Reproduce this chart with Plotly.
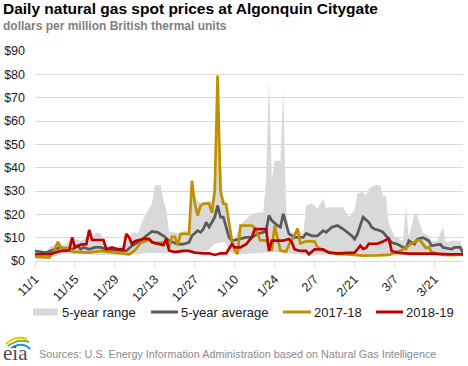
import plotly.graph_objects as go

# ---------------- data ----------------
# x = days since Nov 1 (0 = 11/1, 150 = 3/31)
tick_days = [0, 14, 28, 42, 56, 70, 84, 98, 112, 126, 140]
tick_labels = ["11/1", "11/15", "11/29", "12/13", "12/27", "1/10", "1/24", "2/7", "2/21", "3/7", "3/21"]

range_hi_days = [0, 4, 5, 7, 8, 10, 12, 13, 16, 18, 20, 21, 23, 24, 26, 28, 32, 34, 35, 36, 38, 39, 41, 42, 44,
                 45, 46, 47, 49, 51, 52, 54, 55, 56, 58, 59, 61, 62, 63, 64, 65, 66, 67, 68, 69, 70, 72, 76, 79,
                 80, 81, 82, 83, 84, 86, 87, 88, 89, 91, 92, 94, 95, 97, 99, 101, 102, 103, 108, 110, 112, 113,
                 115, 116, 117, 119, 121, 122, 123, 124, 126, 129, 130, 131, 133, 134, 136, 138, 139, 141, 143,
                 144, 146, 149, 150]
range_hi = [5, 3.8, 5.8, 7.2, 8.7, 6.5, 8.7, 10, 8.7, 10, 9.4, 12, 12, 8.7, 5.8, 5.8, 7.2, 12.3, 12.3, 11.6, 18, 20,
            24.6, 32.5, 32.5, 26, 21.7, 12.3, 12.3, 11.6, 13, 13, 35, 27.5, 24.6, 25, 25.5, 26, 38, 79.7, 42, 27.5,
            25, 17.3, 9.5, 9.4, 15.5, 20.2, 21, 21, 35, 78, 35, 43, 43, 73.7, 23, 12.3, 12.3, 14, 11.6, 23.8, 24.6,
            22.4, 26.7, 22.4, 23, 23, 18.8, 21.6, 29, 29.6, 28, 31, 32.5, 32.5, 28, 28, 16, 10.5, 8.7, 23.8, 10,
            20.2, 19.5, 12, 10.8, 8.7, 8.7, 14.5, 8, 8.7, 8.7, 5]

range_lo_days = [0, 5, 7, 10, 13, 20, 28, 33, 36, 40, 46, 50, 55, 60, 62, 63, 66, 67, 68, 70, 71, 75, 80, 83, 86,
                 88, 90, 95, 100, 105, 110, 115, 120, 125, 130, 135, 140, 145, 150]
range_lo = [1.5, 1.3, 2, 3, 3, 2.8, 2.5, 2.5, 3, 3.5, 3.2, 3.5, 4, 4.2, 6, 7.5, 8, 7.5, 4, 2.8, 2.7, 3, 3.5, 3.8,
            3.8, 3.5, 3, 2.8, 2.6, 2.6, 2.5, 2.1, 2.2, 2.3, 2.5, 2.3, 2.2, 2.1, 2.3]

avg_days = [0, 4, 6, 9, 11, 13, 15, 16, 17, 19, 21, 23, 25, 29, 32, 34, 37, 39, 41, 43, 45, 47, 50, 52, 54, 55, 57,
            58, 59, 60, 61, 62, 63, 64, 65, 66, 67, 68, 69, 72, 74, 76, 78, 80, 81, 82, 83, 85, 86, 87, 88, 89, 91,
            94, 95, 97, 99, 101, 102, 104, 106, 108, 111, 112, 113, 115, 117, 118, 119, 121, 122, 124, 125, 127,
            129, 130, 131, 133, 134, 136, 138, 139, 142, 143, 146, 147, 149, 150]
avg_vals = [4.3, 3.6, 4.6, 5.8, 5, 5, 6.5, 5, 5.8, 5, 5.8, 5.8, 5, 4.6, 4.3, 6.5, 8.7, 10.8, 12.7, 12.3, 10.8, 8.7,
            7.2, 7.2, 8, 10.8, 13, 12.3, 13.7, 16.6, 14.5, 16.6, 18.8, 23.8, 18.8, 18.8, 14.5, 10.1, 8.7, 9.4, 10.1,
            10.1, 11.6, 12.3, 13, 19.5, 17.3, 15.2, 14.5, 20.2, 16, 11.6, 10.1, 10.1, 11.8, 10.8, 10.8, 13, 12.3,
            14.5, 15.2, 13.7, 10.8, 9.4, 11.6, 18.8, 16.6, 14.5, 13.7, 13, 12.3, 9.4, 7.9, 7.2, 5.8, 5.3, 8.7, 7.2,
            9.4, 10, 8.7, 6.5, 7.2, 5.8, 5.1, 5.8, 5.8, 3.6]

y1718_days = [0, 5, 7, 8, 9, 12, 13, 19, 23, 33, 35, 37, 40, 42, 46, 47, 48, 49, 50, 51, 54, 55, 56, 57, 58, 59, 61,
              62, 63, 64, 65, 66, 67, 68, 69, 70, 71, 72, 76, 77, 78, 79, 81, 83, 84, 85, 86, 88, 89, 91, 92, 93,
              95, 98, 99, 101, 103, 106, 110, 115, 120, 124, 126, 128, 130, 132, 134, 135, 137, 138, 139, 141, 143,
              146, 150]
y1718_vals = [1.8, 1.5, 5, 8.2, 5.5, 5.5, 4, 3.6, 4.3, 2.9, 4.6, 7.7, 9.1, 7.7, 8, 5.8, 10.4, 10.4, 6.9, 11.6, 11.6,
              34.4, 24.6, 19.5, 23.6, 24.6, 24.6, 20.7, 30, 79.5, 30, 24.6, 24.3, 17.3, 8.7, 4.6, 3, 15.2, 15.2,
              14.2, 11.8, 8.8, 8.8, 4.5, 15.2, 10.2, 4.5, 4, 7, 11, 13.9, 7.5, 8.5, 8.3, 5.9, 4.5, 3.8, 3, 2.8, 2.3,
              2.4, 2.6, 3.5, 4.5, 5.5, 7.5, 8.8, 8.8, 5.5, 6, 3.8, 3, 2.6, 2.5, 2.7]

y1819_days = [0, 5, 7, 9, 12, 13, 14, 16, 18, 19, 20, 24, 25, 27, 29, 31, 32, 33, 34, 35, 38, 40, 41, 45, 46, 47, 49,
              52, 54, 56, 59, 61, 63, 65, 67, 69, 70, 72, 74, 76, 77, 81, 82, 83, 87, 89, 90, 91, 93, 95, 96, 98,
              101, 103, 106, 110, 112, 113, 114, 115, 116, 117, 120, 122, 124, 125, 127, 131, 136, 140, 145, 150]
y1819_vals = [2.9, 2.9, 3.6, 4.3, 4.5, 10.1, 5.8, 7, 7.2, 13.3, 9, 9, 5, 5.8, 5, 5, 11.6, 10.1, 7.2, 8.5, 9.5, 9.5,
              8, 6.8, 9.5, 4.5, 3.8, 4.3, 4.3, 3.6, 3.3, 3.3, 2.6, 3.3, 3.3, 7.2, 5.8, 5.8, 7.2, 10.1, 13.7, 13.7,
              4.3, 8.7, 8.7, 9.4, 8, 5, 4.3, 4.3, 2.9, 5, 5, 3.6, 3.3, 3.6, 3.6, 5, 6.6, 5.2, 5.6, 7.4, 7.4, 8.4,
              9.6, 4.3, 3.6, 3.2, 3.3, 3.2, 2.9, 2.9]

# ---------------- layout geometry ----------------
W, H = 468, 366
L, R, T, B = 35, 5, 51, 105
PW, PH = W - L - R, H - T - B


def px(x):
    return (x - L) / PW


def py(y):
    return (H - B - y) / PH


FONT = "Liberation Sans, Arial, sans-serif"
TXT = "#1a1a1a"
C_RANGE, C_AVG, C_1718, C_1819 = "#d9d9d9", "#595959", "#bf9000", "#c00000"

fig = go.Figure()
fig.add_trace(go.Scatter(
    x=range_hi_days + range_lo_days[::-1], y=range_hi + range_lo[::-1],
    fill="toself", fillcolor=C_RANGE, mode="lines", line=dict(width=0, color=C_RANGE),
    name="5-year range", hoverinfo="skip"))
fig.add_trace(go.Scatter(x=avg_days, y=avg_vals, mode="lines", name="5-year average",
                         line=dict(color=C_AVG, width=2.7)))
fig.add_trace(go.Scatter(x=y1718_days, y=y1718_vals, mode="lines", name="2017-18",
                         line=dict(color=C_1718, width=2.7)))
fig.add_trace(go.Scatter(x=y1819_days, y=y1819_vals, mode="lines", name="2018-19",
                         line=dict(color=C_1819, width=2.7)))

shapes = []
annotations = []

# title / subtitle
annotations.append(dict(text="<b>Daily natural gas spot prices at Algonquin Citygate</b>", x=px(1), y=py(8),
                        xref="paper", yref="paper", xanchor="left", yanchor="middle", showarrow=False,
                        font=dict(family=FONT, size=15.5, color="#000000")))
annotations.append(dict(text="<b>dollars per million British thermal units</b>", x=px(1), y=py(26),
                        xref="paper", yref="paper", xanchor="left", yanchor="middle", showarrow=False,
                        font=dict(family=FONT, size=12, color="#7f7f7f")))

# legend (manual)
LY = 312
shapes.append(dict(type="rect", xref="paper", yref="paper", x0=px(33), x1=px(58), y0=py(315.5), y1=py(308.5),
                   fillcolor=C_RANGE, line=dict(width=0)))
for x0, x1, c in [(151, 178, C_AVG), (283, 311, C_1718), (376, 403, C_1819)]:
    shapes.append(dict(type="line", xref="paper", yref="paper", x0=px(x0), x1=px(x1), y0=py(LY), y1=py(LY),
                       line=dict(color=c, width=3)))
for x, t in [(60, "5-year range"), (179, "5-year average"), (312, "2017-18"), (404, "2018-19")]:
    annotations.append(dict(text=t, x=px(x), y=py(LY), xref="paper", yref="paper", xanchor="left",
                            yanchor="middle", showarrow=False, font=dict(family=FONT, size=13, color=TXT)))

# footer
annotations.append(dict(text="Sources: U.S. Energy Information Administration based on Natural Gas Intelligence",
                        x=px(37), y=py(354), xref="paper", yref="paper", xanchor="left", yanchor="middle",
                        showarrow=False, font=dict(family=FONT, size=10.8, color="#8a8a8a")))
annotations.append(dict(text="eia", x=px(1), y=py(353), xref="paper", yref="paper", xanchor="left",
                        yanchor="middle", showarrow=False,
                        font=dict(family="Liberation Serif, DejaVu Serif, serif", size=21, color="#4d4d4d")))
for pts, c in [([(6, 344), (15, 335), (27, 339)], "#f2c200"),
               ([(8, 346), (18, 338), (29, 342)], "#6fb43f"),
               ([(11, 348), (23, 341), (30, 349)], "#1a9bd7")]:
    (a, b), (cx, cy), (e, f) = pts
    shapes.append(dict(type="path", xref="paper", yref="paper",
                       path=f"M {px(a)},{py(b)} Q {px(cx)},{py(cy)} {px(e)},{py(f)}",
                       line=dict(color=c, width=2)))

fig.update_layout(
    width=W, height=H, margin=dict(l=L, r=R, t=T, b=B, pad=0),
    paper_bgcolor="white", plot_bgcolor="white", showlegend=False,
    font=dict(family=FONT, color=TXT),
    shapes=shapes, annotations=annotations,
    xaxis=dict(range=[0, 150], tickvals=tick_days, ticktext=tick_labels, tickangle=-45,
               ticks="outside", ticklen=5, tickcolor="#d9d9d9", showline=True, linecolor="#d9d9d9",
               linewidth=1, showgrid=False, zeroline=False, tickfont=dict(size=12.5, color=TXT)),
    yaxis=dict(range=[0, 90], dtick=10, tickprefix="$", showgrid=True, gridcolor="#d9d9d9", gridwidth=1,
               zeroline=False, showline=False, ticks="", ticklabelstandoff=9,
               tickfont=dict(size=12.5, color=TXT)),
)

fig.write_html("out.html", config={"displayModeBar": False},
               post_script="document.body.style.margin='0';document.body.style.overflow='hidden';")
